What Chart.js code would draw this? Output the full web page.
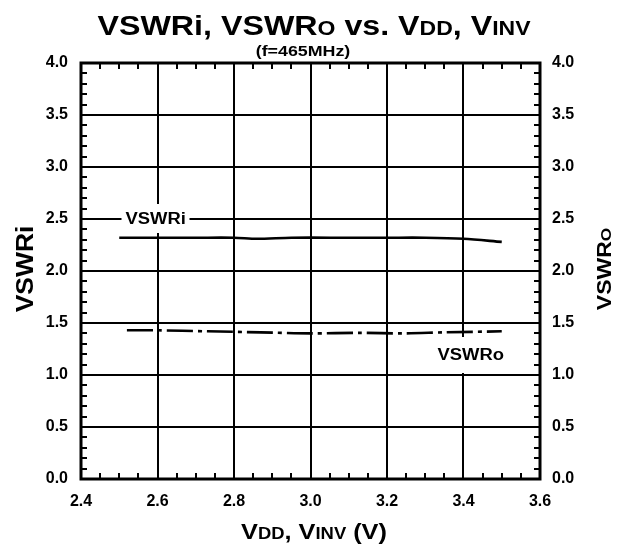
<!DOCTYPE html>
<html>
<head>
<meta charset="utf-8">
<script src="https://cdn.jsdelivr.net/npm/chart.js@4.4.0/dist/chart.umd.min.js"></script>
<style>
  html, body { margin: 0; padding: 0; background: #fff; }
  #wrap { width: 621px; height: 546px; }
</style>
</head>
<body>
<div id="wrap"><canvas id="vswrChart" width="621" height="546"></canvas></div>
<script>
// input VSWR vs supply voltage
const vddIn  = [2.5, 2.6, 2.7, 2.8, 2.86, 2.95, 3.1, 3.2, 3.3, 3.4, 3.5];
const vswrIn = [2.32, 2.32, 2.32, 2.32, 2.31, 2.32, 2.32, 2.32, 2.32, 2.31, 2.28];
// output VSWR vs supply voltage
const vddOut  = [2.52, 2.6, 2.73, 2.87, 3.0, 3.13, 3.24, 3.35, 3.5];
const vswrOut = [1.43, 1.43, 1.42, 1.41, 1.40, 1.405, 1.40, 1.41, 1.42];
// axis ticks
const xTicks = [2.4, 2.6, 2.8, 3.0, 3.2, 3.4, 3.6];
const yTicks = [0, 0.5, 1.0, 1.5, 2.0, 2.5, 3.0, 3.5, 4.0];

const FONT = '"Liberation Sans", Arial, Helvetica, sans-serif';
const STRETCH = 1.15; // lettering is a bit wider than plain Arial

function toPoints(xs, ys) {
  return xs.map((x, i) => ({ x: x, y: ys[i] }));
}

// draws a string made of parts with different font sizes (fake small caps)
function drawParts(ctx, parts, x, y, align) {
  let total = 0;
  parts.forEach(p => { ctx.font = 'bold ' + p[1] + 'px ' + FONT; total += ctx.measureText(p[0]).width; });
  ctx.save();
  ctx.translate(x, y);
  ctx.scale(STRETCH, 1);
  let cx = align === 'center' ? -total / 2 : 0;
  ctx.textAlign = 'left';
  parts.forEach(p => {
    ctx.font = 'bold ' + p[1] + 'px ' + FONT;
    ctx.fillText(p[0], cx, 0);
    cx += ctx.measureText(p[0]).width;
  });
  ctx.restore();
}

const frameAndText = {
  id: 'frameAndText',
  beforeDatasetsDraw(chart) {
    const ctx = chart.ctx;
    const xs = chart.scales.x, ys = chart.scales.y;
    ctx.save();
    // label boxes knock out the grid behind the curve names
    ctx.fillStyle = '#fff';
    const ix = xs.getPixelForValue(2.6), iy = ys.getPixelForValue(2.5);
    ctx.fillRect(ix - 36, iy - 15, 68, 29);
    const ox = xs.getPixelForValue(3.4), oy = ys.getPixelForValue(1.0);
    ctx.fillRect(ox - 31, oy - 38, 76, 36);
    ctx.fillStyle = '#000';
    ctx.textBaseline = 'middle';
    drawParts(ctx, [['VSWRi', 16]], ix - 32, iy + 1, 'left');
    drawParts(ctx, [['VSWRo', 16]], ox - 26, oy - 19, 'left');
    ctx.restore();
  },
  afterDraw(chart) {
    const ctx = chart.ctx;
    const a = chart.chartArea;
    const xs = chart.scales.x, ys = chart.scales.y;
    ctx.save();
    ctx.strokeStyle = '#000';
    // minor ticks, inside the frame
    ctx.lineWidth = 2;
    ctx.beginPath();
    for (let i = 0; i <= 40; i++) {
      if (i % 5 === 0) continue;
      const py = Math.round(ys.getPixelForValue(i / 10));
      ctx.moveTo(a.left, py); ctx.lineTo(a.left + 6, py);
      ctx.moveTo(a.right, py); ctx.lineTo(a.right - 6, py);
    }
    for (let i = 0; i <= 24; i++) {
      if (i % 4 === 0) continue;
      const px = Math.round(xs.getPixelForValue(2.4 + i * 0.05));
      ctx.moveTo(px, a.bottom); ctx.lineTo(px, a.bottom - 6);
      ctx.moveTo(px, a.top); ctx.lineTo(px, a.top + 6);
    }
    ctx.stroke();
    ctx.lineWidth = 3;
    ctx.strokeRect(a.left, a.top, a.right - a.left, a.bottom - a.top);

    // titles
    ctx.fillStyle = '#000';
    ctx.textBaseline = 'alphabetic';
    drawParts(ctx, [['VSWRi, VSWR', 28], ['O', 20], [' vs. V', 28], ['DD', 20], [', V', 28], ['INV', 20]], 314, 35, 'center');
    drawParts(ctx, [['(f=465MHz)', 15.5]], 303, 56, 'center');
    drawParts(ctx, [['V', 22], ['DD', 16], [', V', 22], ['INV', 16], [' (V)', 22]], 314, 539, 'center');

    ctx.save();
    ctx.translate(33, 269);
    ctx.rotate(-Math.PI / 2);
    drawParts(ctx, [['VSWRi', 23]], 0, 0, 'center');
    ctx.restore();
    ctx.save();
    ctx.translate(611, 269);
    ctx.rotate(-Math.PI / 2);
    drawParts(ctx, [['VSWR', 20], ['O', 15]], 0, 0, 'center');
    ctx.restore();
    ctx.restore();
  }
};

const tickFont = { family: FONT, size: 16, weight: 'bold' };

new Chart(document.getElementById('vswrChart'), {
  type: 'scatter',
  data: {
    datasets: [{
      label: 'VSWRi',
      data: toPoints(vddIn, vswrIn),
      showLine: true,
      borderColor: '#000',
      borderWidth: 2.6,
      pointRadius: 0,
      tension: 0.3,
      yAxisID: 'y'
    }, {
      label: 'VSWRo',
      data: toPoints(vddOut, vswrOut),
      showLine: true,
      borderColor: '#000',
      borderWidth: 2.6,
      borderDash: [26, 5, 4, 5],
      pointRadius: 0,
      tension: 0.3,
      yAxisID: 'y'
    }]
  },
  options: {
    responsive: false,
    animation: false,
    devicePixelRatio: 1,
    layout: { padding: { top: 63, left: 0, right: 0, bottom: 0 } },
    plugins: { legend: { display: false }, tooltip: { enabled: false } },
    scales: {
      x: {
        type: 'linear', min: 2.4, max: 3.6,
        afterBuildTicks: s => { s.ticks = xTicks.map(v => ({ value: v })); },
        afterFit: s => { s.height = 67; },
        grid: { color: '#000', lineWidth: 2, drawTicks: false },
        border: { display: false },
        ticks: { color: '#000', font: tickFont, padding: 13, maxRotation: 0,
                 callback: v => v.toFixed(1) }
      },
      y: {
        type: 'linear', position: 'left', min: 0, max: 4,
        afterBuildTicks: s => { s.ticks = yTicks.map(v => ({ value: v })); },
        afterFit: s => { s.width = 81; },
        grid: { color: '#000', lineWidth: 2, drawTicks: false },
        border: { display: false },
        ticks: { color: '#000', font: tickFont, padding: 13, callback: v => v.toFixed(1) }
      },
      y2: {
        type: 'linear', position: 'right', min: 0, max: 4,
        afterBuildTicks: s => { s.ticks = yTicks.map(v => ({ value: v })); },
        afterFit: s => { s.width = 81; },
        grid: { display: false, drawTicks: false },
        border: { display: false },
        ticks: { color: '#000', font: tickFont, padding: 12, callback: v => v.toFixed(1) }
      }
    }
  },
  plugins: [frameAndText]
});
</script>
</body>
</html>
